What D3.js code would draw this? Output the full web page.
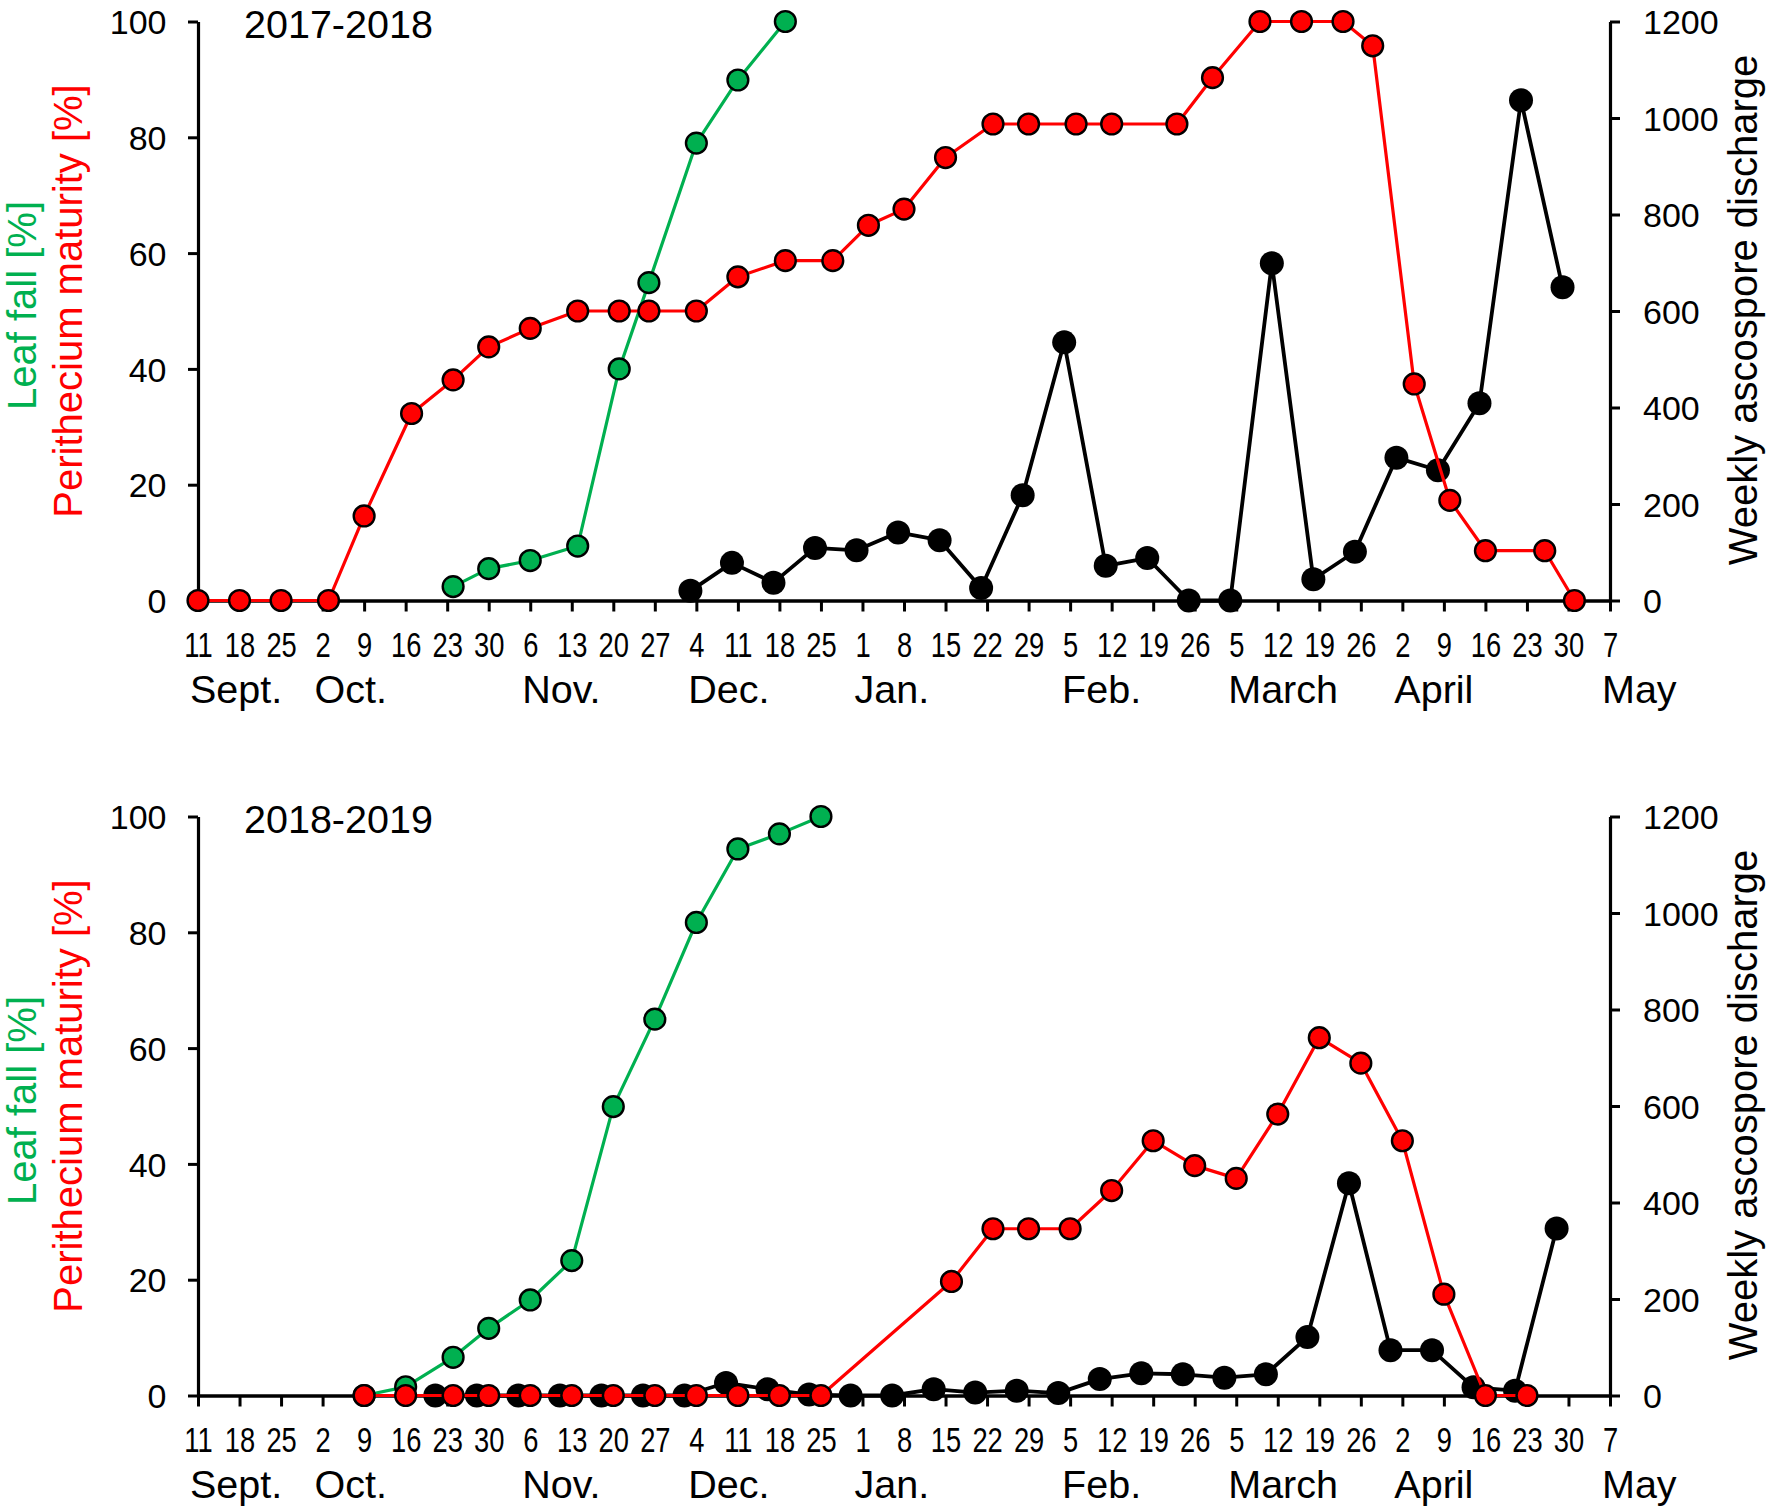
<!DOCTYPE html>
<html><head><meta charset="utf-8">
<script src="https://cdn.jsdelivr.net/npm/d3@7"></script>
<style>
body{margin:0;background:#fff}
svg{display:block}
text{font-family:"Liberation Sans",Arial,Helvetica,sans-serif;fill:#000}
</style>
</head><body>
<svg id="chart" width="1773" height="1512"></svg>
<script>
// ---------- axis labels / ticks ----------
const weekTickLabels = ["11","18","25","2","9","16","23","30","6","13","20","27","4","11","18","25","1","8","15","22","29","5","12","19","26","5","12","19","26","2","9","16","23","30","7"];
const monthLabels = ["Sept.","Oct.","Nov.","Dec.","Jan.","Feb.","March","April","May"];
const monthLabelWeek = [0,3,8,12,16,21,25,29,34];
const leftTicks = [0,20,40,60,80,100];
const rightTicks = [0,200,400,600,800,1000,1200];
const leftTitleGreen = "Leaf fall [%]";
const leftTitleRed = "Perithecium maturity [%]";
const rightTitle = "Weekly ascospore discharge";

// ---------- 2017-2018 ----------
const s1Title = "2017-2018";
const s1Start = "2017-09-11", s1End = "2018-05-07";
const s1MaturityDates = ["2017-09-11","2017-09-18","2017-09-25","2017-10-03","2017-10-09","2017-10-17","2017-10-24","2017-10-30","2017-11-06","2017-11-14","2017-11-21","2017-11-26","2017-12-04","2017-12-11","2017-12-19","2017-12-27","2018-01-02","2018-01-08","2018-01-15","2018-01-23","2018-01-29","2018-02-06","2018-02-12","2018-02-23","2018-03-01","2018-03-09","2018-03-16","2018-03-23","2018-03-28","2018-04-04","2018-04-10","2018-04-16","2018-04-26","2018-05-01"];
const s1MaturityValues = [0,0,0,0,14.6,32.3,38.1,43.8,47.0,50,50,50,50,55.9,58.7,58.7,64.8,67.6,76.5,82.3,82.3,82.3,82.3,82.3,90.3,100,100,100,95.8,37.4,17.3,8.6,8.6,0];
const s1LeafDates = ["2017-10-24","2017-10-30","2017-11-06","2017-11-14","2017-11-21","2017-11-26","2017-12-04","2017-12-11","2017-12-19"];
const s1LeafValues = [2.4,5.5,6.9,9.4,40.0,54.9,79.0,89.9,100];
const s1SporeDates = ["2017-12-03","2017-12-10","2017-12-17","2017-12-24","2017-12-31","2018-01-07","2018-01-14","2018-01-21","2018-01-28","2018-02-04","2018-02-11","2018-02-18","2018-02-25","2018-03-04","2018-03-11","2018-03-18","2018-03-25","2018-04-01","2018-04-08","2018-04-15","2018-04-22","2018-04-29"];
const s1SporeValues = [20,78,37,109,104,141,125,26,218,535,72,88,0,0,699,44,101,296,270,409,1037,649];

// ---------- 2018-2019 ----------
const s2Title = "2018-2019";
const s2Start = "2018-09-11", s2End = "2019-05-07";
const s2MaturityDates = ["2018-10-09","2018-10-16","2018-10-24","2018-10-30","2018-11-06","2018-11-13","2018-11-20","2018-11-27","2018-12-04","2018-12-11","2018-12-18","2018-12-25","2019-01-16","2019-01-23","2019-01-29","2019-02-05","2019-02-12","2019-02-19","2019-02-26","2019-03-05","2019-03-12","2019-03-19","2019-03-26","2019-04-02","2019-04-09","2019-04-16","2019-04-23"];
const s2MaturityValues = [0,0,0,0,0,0,0,0,0,0,0,0,19.7,28.8,28.8,28.8,35.4,44.0,39.7,37.5,48.6,61.8,57.4,44.0,17.5,0,0];
const s2LeafDates = ["2018-10-09","2018-10-16","2018-10-24","2018-10-30","2018-11-06","2018-11-13","2018-11-20","2018-11-27","2018-12-04","2018-12-11","2018-12-18","2018-12-25"];
const s2LeafValues = [0,1.5,6.6,11.6,16.5,23.3,49.9,65.0,81.7,94.4,97.0,100];
const s2SporeDates = ["2018-10-21","2018-10-28","2018-11-04","2018-11-11","2018-11-18","2018-11-25","2018-12-02","2018-12-09","2018-12-16","2018-12-23","2018-12-30","2019-01-06","2019-01-13","2019-01-20","2019-01-27","2019-02-03","2019-02-10","2019-02-17","2019-02-24","2019-03-03","2019-03-10","2019-03-17","2019-03-24","2019-03-31","2019-04-07","2019-04-14","2019-04-21","2019-04-28"];
const s2SporeValues = [0,0,0,0,0,0,0,26,13,2,0,0,13,6,10,5,34,46,44,37,44,121,440,94,94,17,10,346];

// ---------- drawing ----------
const parse = d3.utcParse("%Y-%m-%d");
const svg = d3.select("#chart");
const RED = "#ff0000", GREEN = "#00b050";

function zipSeries(dates, values){ return dates.map((d,i)=>({date:parse(d), value:values[i]})); }

function panel(offsetY, cfg){
  const left = 198, right = 1610, top = 21.5, bottom = 600.5;
  const g = svg.append("g").attr("transform", `translate(0,${offsetY})`);
  const start = parse(cfg.start), end = parse(cfg.end);
  const x = d3.scaleUtc().domain([start,end]).range([left,right]);
  const yL = d3.scaleLinear().domain([0,100]).range([bottom,top]);
  const yR = d3.scaleLinear().domain([0,1200]).range([bottom,top]);
  const weekDates = weekTickLabels.map((_,i)=>d3.utcDay.offset(start, 7*i));

  // left axis
  const ax = g.append("g").attr("transform",`translate(${left},0)`)
    .call(d3.axisLeft(yL).tickValues(leftTicks).tickSize(10).tickSizeOuter(0).tickFormat(d3.format("d")));
  ax.select(".domain").attr("stroke","#000").attr("stroke-width",3.2);
  ax.selectAll(".tick line").attr("stroke","#000").attr("stroke-width",3);
  ax.selectAll(".tick text").attr("x",-31.5).attr("dy","0.36em").style("font-size","34px").style("font-family",null);

  // right axis
  const ar = g.append("g").attr("transform",`translate(${right},0)`)
    .call(d3.axisRight(yR).tickValues(rightTicks).tickSize(10).tickSizeOuter(0).tickFormat(d3.format("d")));
  ar.select(".domain").attr("stroke","#000").attr("stroke-width",3.2);
  ar.selectAll(".tick line").attr("stroke","#000").attr("stroke-width",3);
  ar.selectAll(".tick text").attr("x",33).attr("dy","0.36em").style("font-size","34px").style("font-family",null);

  // bottom axis
  const ab = g.append("g").attr("transform",`translate(0,${bottom})`)
    .call(d3.axisBottom(x).tickValues(weekDates).tickSize(11).tickSizeOuter(0).tickFormat((d,i)=>weekTickLabels[i]));
  ab.select(".domain").attr("stroke","#000").attr("stroke-width",3.6);
  ab.selectAll(".tick line").attr("stroke","#000").attr("stroke-width",3);
  ab.selectAll(".tick text").attr("y",57).attr("dy",0)
    .attr("transform","scale(0.78,1)").style("font-size","35px").style("font-family",null);
  g.selectAll(".tick text").attr("fill","#000");

  // month labels
  g.selectAll(".month").data(monthLabels).join("text").attr("class","month")
    .attr("x",(d,i)=>x(weekDates[monthLabelWeek[i]]) - 8)
    .attr("y",bottom+102)
    .style("font-size","39.5px")
    .text(d=>d);

  // title
  g.append("text").attr("x",244).attr("y",37.5).style("font-size","39.5px").text(cfg.title);

  // axis titles
  g.append("text").attr("transform",`translate(36,305.5) rotate(-90)`).attr("text-anchor","middle")
    .style("font-size","40px").style("fill",GREEN).text(leftTitleGreen);
  g.append("text").attr("transform",`translate(81.5,301) rotate(-90)`).attr("text-anchor","middle")
    .style("font-size","40px").style("fill",RED).text(leftTitleRed);
  g.append("text").attr("transform",`translate(1757,310) rotate(-90)`).attr("text-anchor","middle")
    .style("font-size","40px").text(rightTitle);

  // series
  const spores = zipSeries(cfg.sporeDates, cfg.sporeValues);
  const leaf = zipSeries(cfg.leafDates, cfg.leafValues);
  const mat = zipSeries(cfg.matDates, cfg.matValues);

  const lineR = d3.line().x(d=>x(d.date)).y(d=>yR(d.value));
  const lineL = d3.line().x(d=>x(d.date)).y(d=>yL(d.value));

  g.append("path").datum(spores).attr("d",lineR).attr("fill","none").attr("stroke","#000").attr("stroke-width",3.8).attr("stroke-linejoin","round");
  g.selectAll(".sp").data(spores).join("circle").attr("class","sp")
    .attr("cx",d=>x(d.date)).attr("cy",d=>yR(d.value)).attr("r",12).attr("fill","#000");

  g.append("path").datum(leaf).attr("d",lineL).attr("fill","none").attr("stroke",GREEN).attr("stroke-width",3.2).attr("stroke-linejoin","round");
  g.selectAll(".lf").data(leaf).join("circle").attr("class","lf")
    .attr("cx",d=>x(d.date)).attr("cy",d=>yL(d.value)).attr("r",10.4)
    .attr("fill",GREEN).attr("stroke","#000").attr("stroke-width",2.4);

  g.append("path").datum(mat).attr("d",lineL).attr("fill","none").attr("stroke",RED).attr("stroke-width",3.2).attr("stroke-linejoin","round");
  g.selectAll(".mt").data(mat).join("circle").attr("class","mt")
    .attr("cx",d=>x(d.date)).attr("cy",d=>yL(d.value)).attr("r",10.4)
    .attr("fill",RED).attr("stroke","#000").attr("stroke-width",2.4);
}

panel(0, {title:s1Title, start:s1Start, end:s1End,
  matDates:s1MaturityDates, matValues:s1MaturityValues,
  leafDates:s1LeafDates, leafValues:s1LeafValues,
  sporeDates:s1SporeDates, sporeValues:s1SporeValues});
panel(795, {title:s2Title, start:s2Start, end:s2End,
  matDates:s2MaturityDates, matValues:s2MaturityValues,
  leafDates:s2LeafDates, leafValues:s2LeafValues,
  sporeDates:s2SporeDates, sporeValues:s2SporeValues});
</script>
</body></html>
